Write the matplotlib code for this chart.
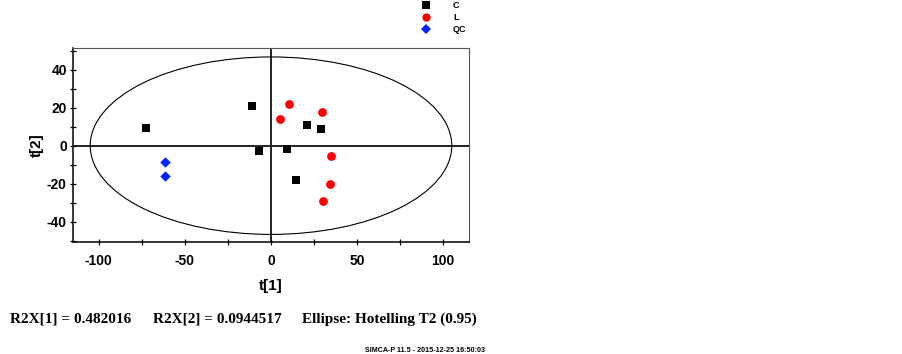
import matplotlib
matplotlib.use("Agg")
import matplotlib.pyplot as plt
from matplotlib.patches import Ellipse
from matplotlib.lines import Line2D
import numpy as np

plt.rcParams["axes.unicode_minus"] = False

# Data
c_x = [-72.7, -10.9, -7.0, 9.1, 20.9, 28.9, 14.3]
c_y = [9.2, 21.1, -2.8, -1.7, 10.9, 8.8, -18.2]
l_x = [5.4, 10.5, 29.7, 34.7, 34.1, 30.2]
l_y = [14.2, 22.1, 17.6, -5.3, -20.3, -29.3]
qc_x = [-61.4, -61.8]
qc_y = [-8.6, -16.1]
ellipse_a = 105.0
ellipse_b = 46.7
x_ticks = [-100, -50, 0, 50, 100]
y_ticks = [-40, -20, 0, 20, 40]
groups = ["C", "L", "QC"]

W, H = 903, 354
fig = plt.figure(figsize=(W / 100, H / 100), dpi=100)
ax = fig.add_axes([73 / W, 1 - 242 / H, (469 - 73) / W, (242 - 48) / H])

ax.set_xlim(-115, 115)
ax.set_ylim(-50.7, 51.4)

ax.add_patch(Ellipse((0, 0), 2 * ellipse_a, 2 * ellipse_b, fill=False,
                     edgecolor="black", linewidth=0.8, zorder=2))
ax.axhline(0, color="#222222", linewidth=1.4, zorder=1)
ax.axvline(0, color="#222222", linewidth=1.4, zorder=1)

ax.scatter(c_x, c_y, marker="s", s=34, color="black", zorder=3, linewidths=0)
ax.scatter(l_x, l_y, marker="o", s=40, color="#ff0000", zorder=3, linewidths=0)
ax.scatter(qc_x, qc_y, marker="D", s=28, color="#0022ff", zorder=3, linewidths=0)

ax.set_xticks(x_ticks)
ax.set_yticks(y_ticks)
ax.set_xticks(np.arange(-100, 101, 25), minor=True)
ax.set_yticks(np.arange(-50, 51, 10), minor=True)
ax.tick_params(which="major", direction="inout", length=5, width=0.9, labelsize=10)
ax.tick_params(axis="x", which="major", pad=6)
ax.tick_params(axis="y", which="major", pad=2)
ax.tick_params(which="minor", direction="inout", length=4, width=0.9)
for lab in ax.get_xticklabels() + ax.get_yticklabels():
    lab.set_fontweight("bold")
    lab.set_fontfamily("Liberation Sans")
for s in ["left", "bottom"]:
    ax.spines[s].set_linewidth(1.1)
for s in ["top", "right"]:
    ax.spines[s].set_linewidth(0.8)
    ax.spines[s].set_color("#555555")

ax.set_xlabel("t[1]", fontsize=11, fontweight="bold", family="Liberation Sans", labelpad=8)
ax.set_ylabel("t[2]", fontsize=11, fontweight="bold", family="Liberation Sans", labelpad=2)

# Legend (figure level)
leg_markers = [("s", "black", 5.5), ("o", "#ff0000", 6), ("D", "#0022ff", 5)]
leg_y = [5, 17, 29]
for (m, col, ms), yy, name in zip(leg_markers, leg_y, groups):
    fig.add_artist(Line2D([426 / W], [1 - yy / H], marker=m, color=col,
                          markersize=ms, linestyle="none", markeredgewidth=0))
    fig.text(453 / W, 1 - yy / H, name, fontsize=6.5, fontweight="bold",
             family="Liberation Sans", va="center", ha="left")

fig.text(10 / W, 1 - 319 / H, "R2X[1] = 0.482016", fontsize=11, fontweight="bold",
         family="Liberation Serif", va="center", ha="left")
fig.text(153 / W, 1 - 319 / H, "R2X[2] = 0.0944517", fontsize=11, fontweight="bold",
         family="Liberation Serif", va="center", ha="left")
fig.text(302 / W, 1 - 319 / H, "Ellipse: Hotelling T2 (0.95)", fontsize=11, fontweight="bold",
         family="Liberation Serif", va="center", ha="left")
fig.text(485 / W, 1 - 350 / H, "SIMCA-P 11.5 - 2015-12-25 16:50:03", fontsize=5.1,
         fontweight="bold", family="Liberation Sans", va="center", ha="right")

fig.savefig("out.png", dpi=100)
